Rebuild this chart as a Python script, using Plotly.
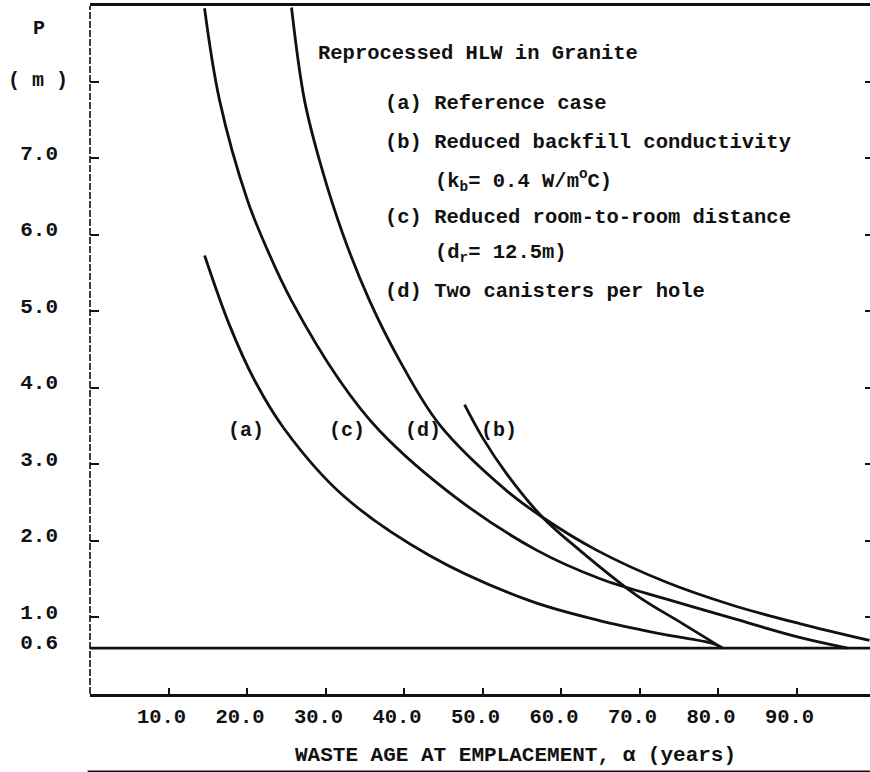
import plotly.graph_objects as go

# Waste age at emplacement (years) and pitch P (m) for each case
age_a = [14.6, 17.77, 20.96, 24.78, 32.17, 43.25, 55.99, 64.90, 72.55, 79.30, 80.57]
p_a = [5.73, 4.82, 4.10, 3.46, 2.60, 1.81, 1.22, 0.96, 0.79, 0.66, 0.60]

age_b = [47.71, 50.00, 53.06, 57.64, 62.36, 69.62, 75.48, 80.57]
p_b = [3.78, 3.35, 2.88, 2.31, 1.88, 1.29, 0.92, 0.60]

age_c = [14.59, 16.50, 20.06, 22.61, 25.67, 31.78, 36.88, 46.69, 56.88, 64.90,
         73.44, 81.46, 90.38, 96.50]
p_c = [8.96, 7.76, 6.45, 5.80, 5.14, 4.10, 3.44, 2.56, 1.88, 1.51,
       1.24, 1.00, 0.74, 0.60]

age_d = [25.67, 27.32, 29.49, 32.17, 35.61, 39.43, 44.52, 52.80, 57.64, 64.52,
         73.44, 81.85, 90.38, 99.30]
p_d = [8.97, 7.76, 6.88, 6.02, 5.14, 4.36, 3.52, 2.68, 2.31, 1.88,
       1.46, 1.16, 0.92, 0.70]

P_MIN = 0.6  # minimum pitch line

x_tickvals = [10, 20, 30, 40, 50, 60, 70, 80, 90]
x_ticktext = ["10.0", "20.0", "30.0", "40.0", "50.0", "60.0", "70.0", "80.0", "90.0"]
y_tickvals = [0.6, 1, 2, 3, 4, 5, 6, 7, 8]
y_ticktext = ["0.6", "1.0", "2.0", "3.0", "4.0", "5.0", "6.0", "7.0", ""]
y_right_ticks = [1, 2, 3, 4, 5, 6, 7, 8]

curve_labels = ["(a)", "(c)", "(d)", "(b)"]
curve_label_x = [19.81, 32.68, 42.48, 52.04]
curve_label_y = 3.44

legend_lines = [
    ("Reprocessed HLW in Granite", 28.85, 8.37),
    ("(a) Reference case", 37.26, 7.72),
    ("(b) Reduced backfill conductivity", 37.26, 7.21),
    ("(k<sub>b</sub>= 0.4 W/m<sup>o</sup>C)", 43.63, 6.71),
    ("(c) Reduced room-to-room distance", 37.26, 6.22),
    ("(d<sub>r</sub>= 12.5m)", 43.63, 5.76),
    ("(d) Two canisters per hole", 37.26, 5.26),
]

FONT = "Liberation Mono"
INK = "#111111"
X_MAX = 99.36
Y_MAX = 8.99


def txt_font(size):
    return dict(family=FONT, size=size, color=INK, weight="bold")


fig = go.Figure()

fig.add_trace(go.Scatter(x=[0, X_MAX], y=[P_MIN, P_MIN], mode="lines",
                         line=dict(color=INK, width=2.6), hoverinfo="skip"))

for xs, ys in [(age_a, p_a), (age_b, p_b), (age_c, p_c), (age_d, p_d)]:
    fig.add_trace(go.Scatter(x=xs, y=ys, mode="lines",
                             line=dict(color=INK, width=2.8, shape="spline", smoothing=1.0),
                             hoverinfo="skip"))

# invisible trace to carry the right-hand tick axis
fig.add_trace(go.Scatter(x=[0], y=[0], yaxis="y2", mode="markers",
                         marker=dict(opacity=0), hoverinfo="skip"))

for lab, lx in zip(curve_labels, curve_label_x):
    fig.add_annotation(x=lx, y=curve_label_y, text=lab, showarrow=False,
                       font=txt_font(20), xanchor="center", yanchor="middle")

for txt, lx, ly in legend_lines:
    fig.add_annotation(x=lx, y=ly, text=txt, showarrow=False,
                       font=txt_font(20.5), xanchor="left", yanchor="middle")

# "P ( m )" heading of the vertical axis
fig.add_annotation(xref="paper", yref="paper", x=-0.066, y=0.968, text="P",
                   showarrow=False, font=txt_font(20), xanchor="center", yanchor="middle")
fig.add_annotation(xref="paper", yref="paper", x=-0.067, y=0.892, text="( m )",
                   showarrow=False, font=txt_font(20), xanchor="center", yanchor="middle")

# x-axis title
fig.add_annotation(xref="paper", yref="paper", x=0.546, y=-0.089,
                   text="WASTE AGE AT EMPLACEMENT, \u03b1 (years)",
                   showarrow=False, font=txt_font(21), xanchor="center", yanchor="middle")

# broken-looking left axis line
fig.add_shape(type="line", xref="paper", yref="paper", x0=0, x1=0, y0=0, y1=1,
              line=dict(color=INK, width=1.6, dash="7px,2px"))
# rule under the axis title
fig.add_shape(type="line", xref="paper", yref="paper", x0=-0.003, x1=1, y0=-0.113, y1=-0.113,
              line=dict(color=INK, width=2.5))

fig.update_layout(
    width=870, height=772,
    margin=dict(l=90, r=0, t=6, b=78),
    paper_bgcolor="white", plot_bgcolor="white",
    showlegend=False,
    font=dict(family=FONT, size=20, color=INK),
    xaxis=dict(
        range=[0, X_MAX], showgrid=False, zeroline=False, automargin=False,
        showline=True, linecolor=INK, linewidth=2.5, mirror=True,
        ticks="inside", ticklen=6, tickwidth=1.5, tickcolor=INK,
        tickvals=x_tickvals, ticktext=x_ticktext,
        tickfont=txt_font(20.5),
        ticklabelshift=-7, ticklabelstandoff=2,
    ),
    yaxis=dict(
        range=[0, Y_MAX], showgrid=False, zeroline=False, showline=False,
        automargin=False,
        ticks="inside", ticklen=9, tickwidth=1.8, tickcolor=INK,
        tickvals=y_tickvals, ticktext=y_ticktext,
        tickfont=txt_font(21),
        ticklabelshift=-6, ticklabelstandoff=31,
    ),
    yaxis2=dict(
        range=[0, Y_MAX], overlaying="y", side="right", showgrid=False,
        zeroline=False, showline=False, automargin=False, ticks="inside", ticklen=5,
        tickwidth=2, tickcolor=INK, tickvals=y_right_ticks, showticklabels=False,
    ),
)

fig.write_html("out.html")
